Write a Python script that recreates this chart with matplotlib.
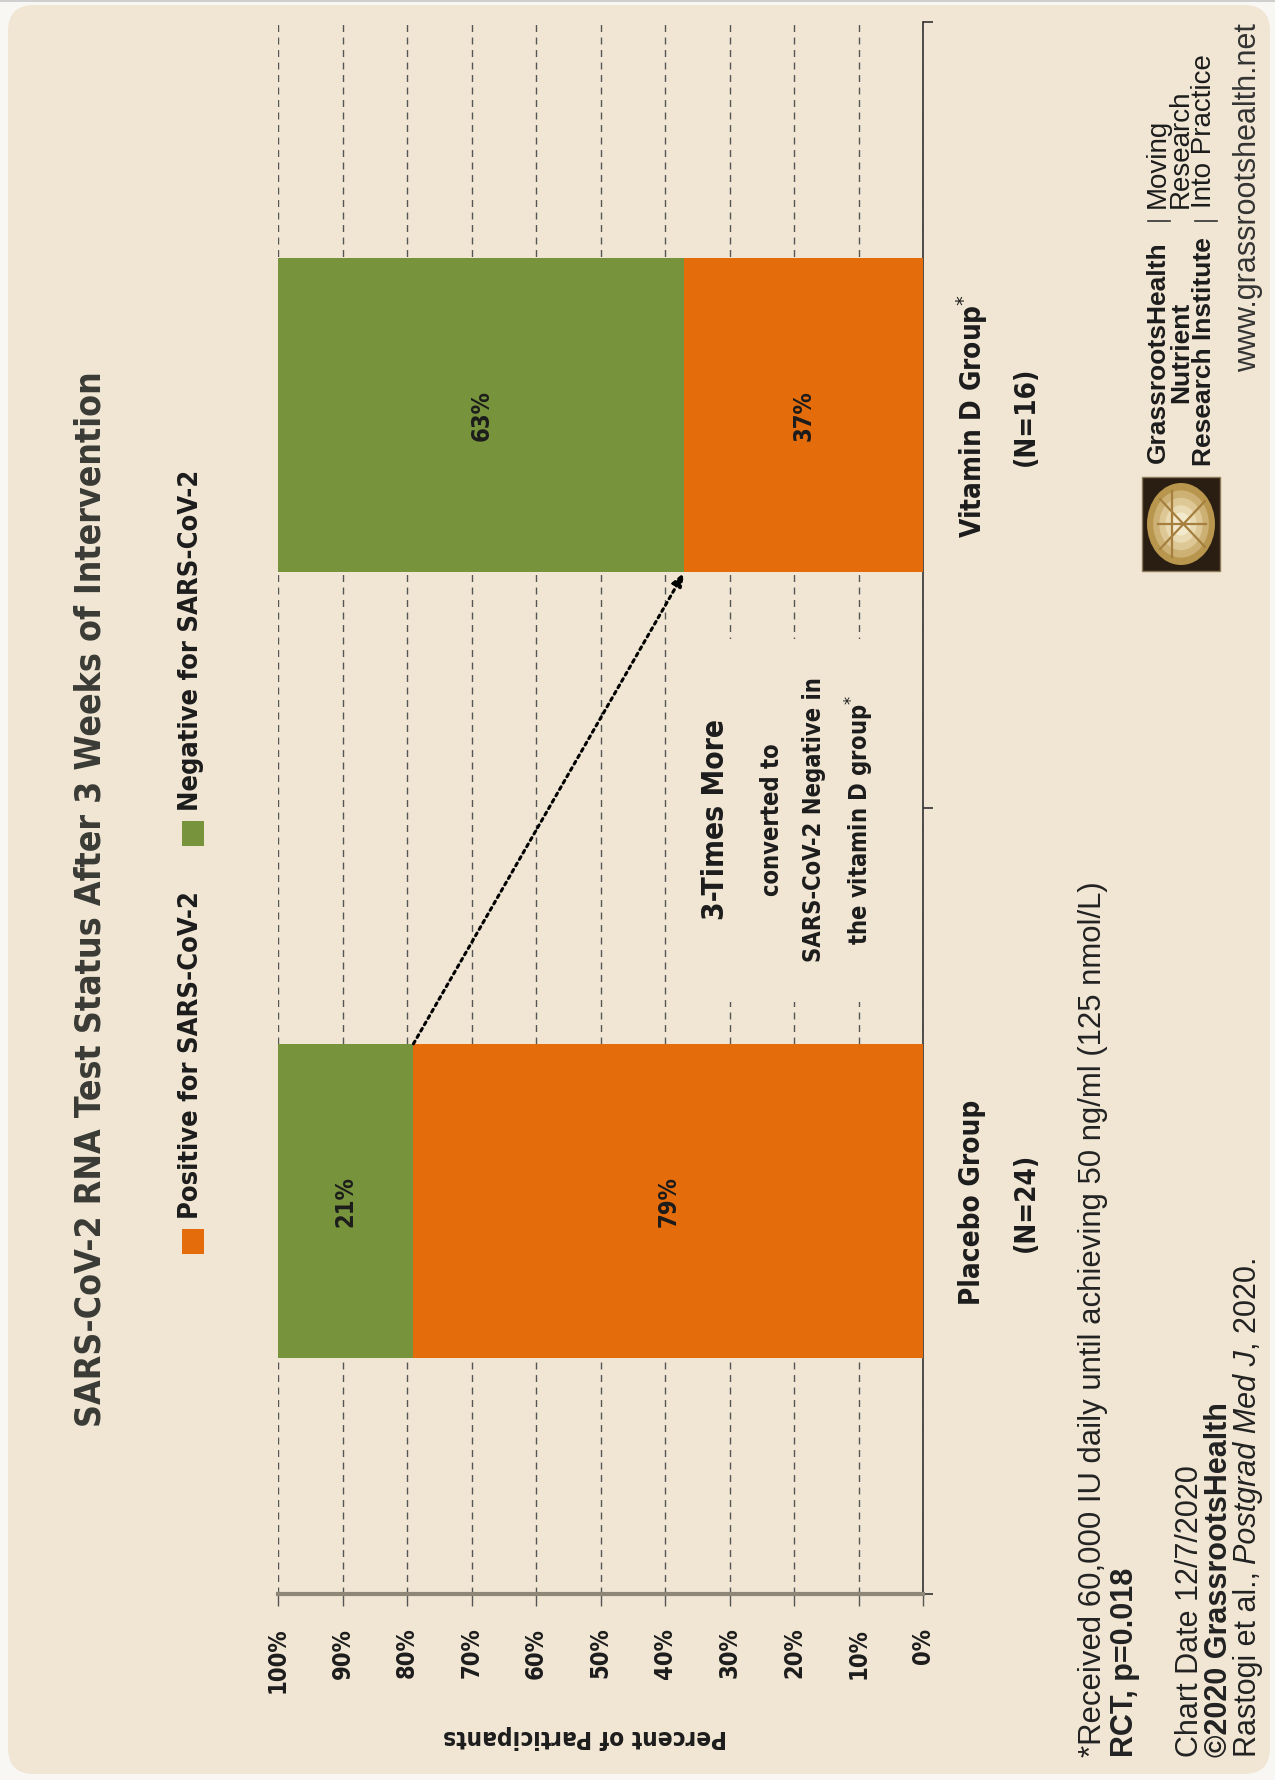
import os
import matplotlib
matplotlib.use("Agg")
import matplotlib.pyplot as plt
from matplotlib import font_manager, transforms
from matplotlib.font_manager import FontProperties
from matplotlib.patches import FancyBboxPatch, Rectangle, Ellipse
from matplotlib.lines import Line2D

# study results (percent of each group)
groups = ["Placebo Group", "Vitamin D Group"]
group_marks = ["", "*"]
group_n = [24, 16]
positive_pct = [79, 37]
negative_pct = [21, 63]
pct_ticks = [0, 10, 20, 30, 40, 50, 60, 70, 80, 90, 100]

W, H = 1275, 1781
BG = "#F0E6D3"
ORANGE = "#E46C0A"
GREEN = "#77933C"
INK = "#1c1c1c"


def find_font_file(keys):
    names = {os.path.basename(f.fname): f.fname for f in font_manager.fontManager.ttflist}
    for key in keys:
        for base, path in names.items():
            if base.lower().startswith(key.lower()):
                return path
    return None


COND_BOLD = find_font_file(["LiberationSansNarrow-Bold.", "NotoSans-CondensedBold.",
                            "DejaVuSansCondensed-Bold.", "RobotoCondensed-Bold.",
                            "OpenSans-CondensedBold.", "OpenSans_Condensed-Bold."])


def cond(size):
    if COND_BOLD:
        return FontProperties(fname=COND_BOLD, size=size)
    return FontProperties(family="DejaVu Sans", weight="bold", stretch="condensed", size=size)


def sans(size, weight="normal", style="normal"):
    return FontProperties(family=["Liberation Sans", "DejaVu Sans"], weight=weight, style=style,
                          size=size)


def px(x, y):
    # pixel position (from top-left) -> figure fraction
    return x / W, 1 - y / H


def vtext(x, y, s, **kw):
    # everything on this sheet reads bottom-to-top
    kw.setdefault("rotation", 90)
    kw.setdefault("color", INK)
    return fig.text(*px(x, y), s, **kw)


fig = plt.figure(figsize=(W / 100, H / 100), dpi=100)
fig.patch.set_facecolor("#F8F7F4")

# card background with rounded corners
card = FancyBboxPatch((8, H - 1775), 1262, 1769, boxstyle="round,pad=0,rounding_size=26",
                      transform=transforms.IdentityTransform(), facecolor=BG, edgecolor="none",
                      zorder=-5)
fig.patches.append(card)
fig.patches.append(Rectangle((0, H - 3), W, 3, transform=transforms.IdentityTransform(),
                             facecolor="#CFCFCF", edgecolor="none", zorder=-4))

ax = fig.add_axes([278 / W, 1 - 1595 / H, (923 - 278) / W, (1595 - 23) / H])
ax.set_facecolor("none")
ax.set_xlim(100, 0)
ax.set_ylim(-0.5, 1.5)

ypos = list(range(len(groups)))
ax.barh(ypos, positive_pct, height=0.4, color=ORANGE, zorder=3)
ax.barh(ypos, negative_pct, left=positive_pct, height=0.4, color=GREEN, zorder=3)

for i in ypos:
    ax.text(positive_pct[i] / 2, i, f"{positive_pct[i]}%", rotation=90, ha="center", va="center",
            fontproperties=cond(17), color=INK, zorder=4)
    ax.text(positive_pct[i] + negative_pct[i] / 2, i, f"{negative_pct[i]}%", rotation=90,
            ha="center", va="center", fontproperties=cond(17), color=INK, zorder=4)

# percent axis (runs right to left along the bottom)
ax.set_xticks(pct_ticks)
ax.set_xticklabels([f"{t}%" for t in pct_ticks], rotation=90, fontproperties=cond(17),
                   color=INK)
ax.xaxis.grid(True, linestyle=(0, (5, 4)), color="#555555", linewidth=1)
ax.set_axisbelow(True)
ax.tick_params(axis="x", length=8.5, width=1, color="#555555", pad=15)

ax.yaxis.tick_right()
ax.set_yticks([-0.5, 0.5, 1.5])
ax.set_yticklabels([])
ax.tick_params(axis="y", length=7, width=1.2, color="#333333")

for side in ["top", "left"]:
    ax.spines[side].set_visible(False)
ax.spines["bottom"].set_color("#8E8676")
ax.spines["bottom"].set_linewidth(3)
ax.spines["right"].set_color("#333333")
ax.spines["right"].set_linewidth(1.2)

# keep the gridlines out of the callout text
ax.add_patch(Rectangle((5.9, 0.253), 29.3, 0.462, facecolor=BG, edgecolor="none", zorder=1))

ax.annotate("", xy=(positive_pct[1], 1 - 0.2), xytext=(positive_pct[0], 0 + 0.2),
            arrowprops=dict(arrowstyle="-|>,head_length=0.8,head_width=0.3", color="black",
                            lw=2.2, linestyle=(0, (1, 1.4)), shrinkA=0, shrinkB=0),
            zorder=5)

# group names beside the bars
trans = transforms.blended_transform_factory(fig.transFigure, ax.transData)
for i in ypos:
    name = groups[i] + (r"$^{*}$" if group_marks[i] else "")
    ax.text(972 / W, i, name, transform=trans, rotation=90, ha="center", va="center",
            fontproperties=cond(20), color=INK)
    ax.text(1026 / W, i, f"(N={group_n[i]})", transform=trans, rotation=90, ha="center",
            va="center", fontproperties=cond(20), color=INK)

# title and legend
vtext(91, 899, "SARS-CoV-2 RNA Test Status After 3 Weeks of Intervention", ha="center",
      va="center", fontproperties=cond(25.6), color="#3A3A36")

legend_items = [("Positive for SARS-CoV-2", ORANGE, 1255), ("Negative for SARS-CoV-2", GREEN, 847)]
for label, col, y0 in legend_items:
    fig.patches.append(Rectangle(px(182, y0), 22 / W, 25 / H, transform=fig.transFigure,
                                 facecolor=col, edgecolor="none"))
    vtext(191, y0 - 36, label, ha="center", va="bottom", fontproperties=cond(19.5))

fig.text(*px(585, 1737), "Percent of Participants", rotation=180, ha="center", va="center",
         fontproperties=cond(17.5), color=INK)

# callout between the bars
vtext(715, 820, "3-Times More", ha="center", va="center", fontproperties=cond(21.5))
callout = ["converted to", "SARS-CoV-2 Negative in", r"the vitamin D group$^{*}$"]
for x, line in zip([772, 814, 860], callout):
    vtext(x, 820, line, ha="center", va="center", fontproperties=cond(17))

# footnotes
vtext(1093, 1757, "*Received 60,000 IU daily until achieving 50 ng/ml (125 nmol/L)",
      ha="center", va="bottom", fontproperties=sans(22.4), color="#222222")
vtext(1125, 1757, "RCT, p=0.018", ha="center", va="bottom", fontproperties=sans(22, "bold"),
      color="#222222")
vtext(1190, 1757, "Chart Date 12/7/2020", ha="center", va="bottom", fontproperties=sans(22),
      color="#222222")
vtext(1219, 1757, "\u00a92020 GrassrootsHealth", ha="center", va="bottom",
      fontproperties=sans(22, "bold"), color="#222222")

renderer = fig.canvas.get_renderer()
y = 1757
for part, style, gap in [("Rastogi et al.,", "normal", 7), ("Postgrad Med J", "italic", 0),
                         (", 2020.", "normal", 0)]:
    t = vtext(1248, y, part, ha="center", va="bottom", fontproperties=sans(22, style=style),
              color="#222222")
    ext = t.get_window_extent(renderer)
    y = H - ext.y1 - gap

# logo block
fig.patches.append(Rectangle(px(1142, 572), 78 / W, 94 / H, transform=fig.transFigure,
                             facecolor="#2A1D12", edgecolor="#8A7A5A", lw=1))
for k, c in enumerate(["#B8964E", "#CDB074", "#DDC794", "#E9DAB2", "#F3E9CC"]):
    f = 1 - k * 0.18
    fig.patches.append(Ellipse(px(1181, 525), 68 * f / W, 82 * f / H, transform=fig.transFigure,
                               facecolor=c, edgecolor="none"))
for (xa, ya), (xb, yb) in [((1158, 525), (1206, 525)), ((1172, 492), (1172, 558)),
                           ((1160, 500), (1205, 548)), ((1160, 550), (1205, 502))]:
    fig.add_artist(Line2D([xa / W, xb / W], [1 - ya / H, 1 - yb / H], transform=fig.transFigure,
                          color="#A67F3E", lw=1.6))

for x, line in zip([1158, 1181, 1204], ["GrassrootsHealth", "Nutrient", "Research Institute"]):
    vtext(x, 352, line, ha="center", va="center", fontproperties=sans(19, "bold"))
for x, line in zip([1158, 1181, 1204], ["Moving", "Research", "Into Practice"]):
    vtext(x, 208, line, ha="center", va="bottom", fontproperties=sans(20))
for xa, xb in [(1148, 1170), (1195, 1217)]:
    fig.add_artist(Line2D([xa / W, xb / W], [1 - 222 / H] * 2, transform=fig.transFigure,
                          color="#333333", lw=1.2))
vtext(1248, 372, "www.grassrootshealth.net", ha="center", va="bottom", fontproperties=sans(22),
      color="#333333")

fig.savefig("out.png", dpi=100, facecolor=fig.get_facecolor())
